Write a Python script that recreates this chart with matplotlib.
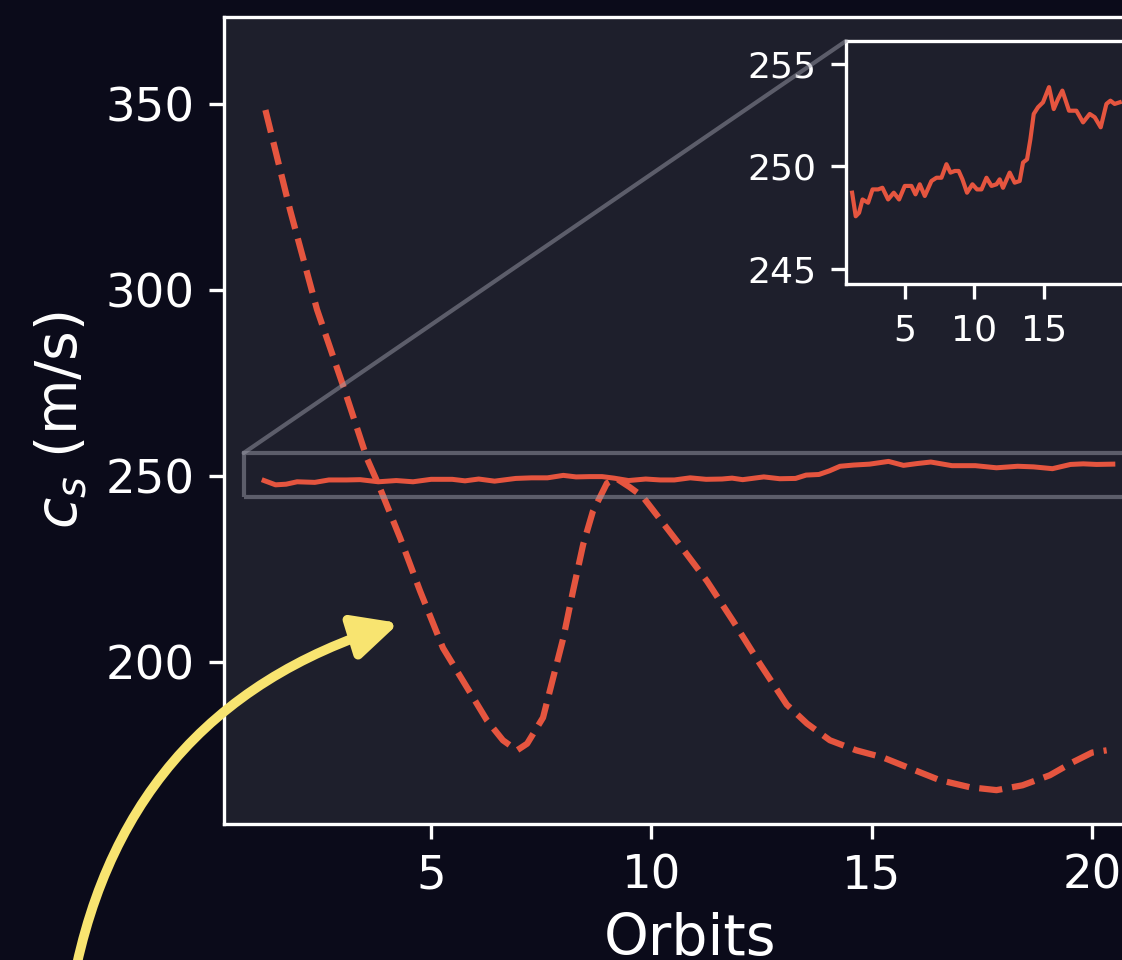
import numpy as np
import matplotlib
matplotlib.use("Agg")
import matplotlib.pyplot as plt
from matplotlib.patches import FancyArrowPatch, Rectangle, ConnectionPatch

# dashed curve
dash_x = [1.24, 1.8, 2.41, 3.0, 3.55, 3.8, 4.3, 4.75, 5.27, 5.82, 6.27,
          6.63, 6.95, 7.18, 7.54, 7.77, 8.0, 8.22, 8.45, 8.67, 8.99, 9.2, 9.5, 9.8,
          10.58, 11.26, 11.85, 12.46, 13.07, 13.53, 14.05, 14.65, 15.25, 15.86,
          16.54, 17.22, 17.83, 18.42, 19.04, 19.56, 20.0, 20.33]
dash_y = [348.3, 321.4, 294.7, 274.3, 254.5, 247.8, 233.2, 219.0,
          203.7, 193.0, 184.2, 178.9, 176.2, 178.0, 185.0, 195.7, 206.4, 219.0,
          231.5, 240.4, 248.0, 249.3, 247.0, 244.4, 232.4, 221.7, 211.0, 199.5,
          188.5, 183.4, 178.9, 176.2, 174.3, 171.4, 168.2, 166.3, 165.5, 166.8,
          169.5, 173.0, 175.6, 176.2]

# solid sound-speed trace
cs_x = [1.21, 1.47, 1.71, 1.96, 2.36, 2.68, 3.08, 3.39, 3.8, 4.21, 4.59, 5.0, 5.48,
        5.77, 6.08, 6.44, 6.92, 7.28, 7.64, 8.0, 8.29, 8.6, 8.88, 9.15, 9.48, 9.87,
        10.2, 10.52, 10.88, 11.24, 11.6, 11.83, 12.07, 12.55, 12.91, 13.27, 13.51,
        13.8, 14.04, 14.28, 14.59, 14.95, 15.38, 15.72, 16.03, 16.34, 16.82, 17.35,
        17.83, 18.31, 18.67, 19.1, 19.51, 19.8, 20.1, 20.47]
cs_y = [248.71, 247.56, 247.73, 248.38, 248.22, 248.87, 248.87, 248.95, 248.38,
        248.71, 248.38, 249.04, 249.04, 248.63, 249.12, 248.55, 249.28, 249.44,
        249.44, 250.1, 249.69, 249.77, 249.77, 249.36, 248.71, 249.12, 248.87,
        248.87, 249.44, 249.04, 249.12, 249.36, 248.95, 249.69, 249.2, 249.28,
        250.18, 250.34, 251.32, 252.55, 252.88, 253.12, 253.86, 252.79, 253.28,
        253.69, 252.71, 252.71, 252.14, 252.55, 252.39, 251.9, 253.04, 253.2,
        253.04, 253.12]

x_ticks = [5, 10, 15, 20]
y_ticks = [200, 250, 300, 350]
inset_yticks = [245, 250, 255]

fig_bg = '#0b0b1a'
ax_bg = '#1e1f2c'
red = '#e5553f'
yellow = '#f8e470'
grey = '#9a9ba8'

fig = plt.figure(figsize=(1122 / 300, 960 / 300), dpi=300, facecolor=fig_bg)
ax = fig.add_axes([224 / 1122, 136 / 960, 932 / 1122, 807 / 960])
ax.set_facecolor(ax_bg)

ax.plot(dash_x, dash_y, color=red, lw=1.5, ls='--')
ax.plot(cs_x, cs_y, color=red, lw=1.2)

ax.set_xlim(0.3, 21.45)
ax.set_ylim(156.4, 373.3)
ax.set_xticks(x_ticks)
ax.set_yticks(y_ticks)
ax.set_xlabel('Orbits', fontsize=13.7, color='white', labelpad=3.4)
ax.set_ylabel('$c_s$ (m/s)', fontsize=13.7, color='white')
ax.tick_params(colors='white', labelsize=11.2)
for s in ax.spines.values():
    s.set_color('white')

# zoom inset
x1, x2, y1, y2 = 0.745, 21.0, 244.25, 256.1
axins = ax.inset_axes([0.667, 0.669, 0.302, 0.301])
axins.set_facecolor(ax_bg)
axins.plot(cs_x, cs_y, color=red, lw=1.0)
axins.set_xlim(x1, x2)
axins.set_ylim(y1, y2)
axins.set_xticks([5, 10, 15])
axins.set_yticks(inset_yticks)
axins.tick_params(colors='white', labelsize=8.7)
for s in axins.spines.values():
    s.set_color('white')

rect = Rectangle((x1, y1), x2 - x1, y2 - y1, fill=False, edgecolor=grey,
                 alpha=0.5, lw=1.0, zorder=4)
ax.add_patch(rect)
con = ConnectionPatch(xyA=(x1, y2), coordsA=ax.transData,
                      xyB=(0, 1), coordsB=axins.transAxes,
                      color=grey, alpha=0.5, lw=1.0)
fig.add_artist(con)

# curved highlight arrow
arrow = FancyArrowPatch((70 / 1122, -40 / 960), (399 / 1122, 337 / 960),
                        transform=fig.transFigure,
                        connectionstyle='arc3,rad=-0.31',
                        arrowstyle='-|>,head_length=0.45,head_width=0.22',
                        mutation_scale=20, color=yellow, lw=2.3,
                        shrinkA=0, shrinkB=0)
fig.add_artist(arrow)

fig.savefig('out.png', dpi=300, facecolor=fig_bg)
